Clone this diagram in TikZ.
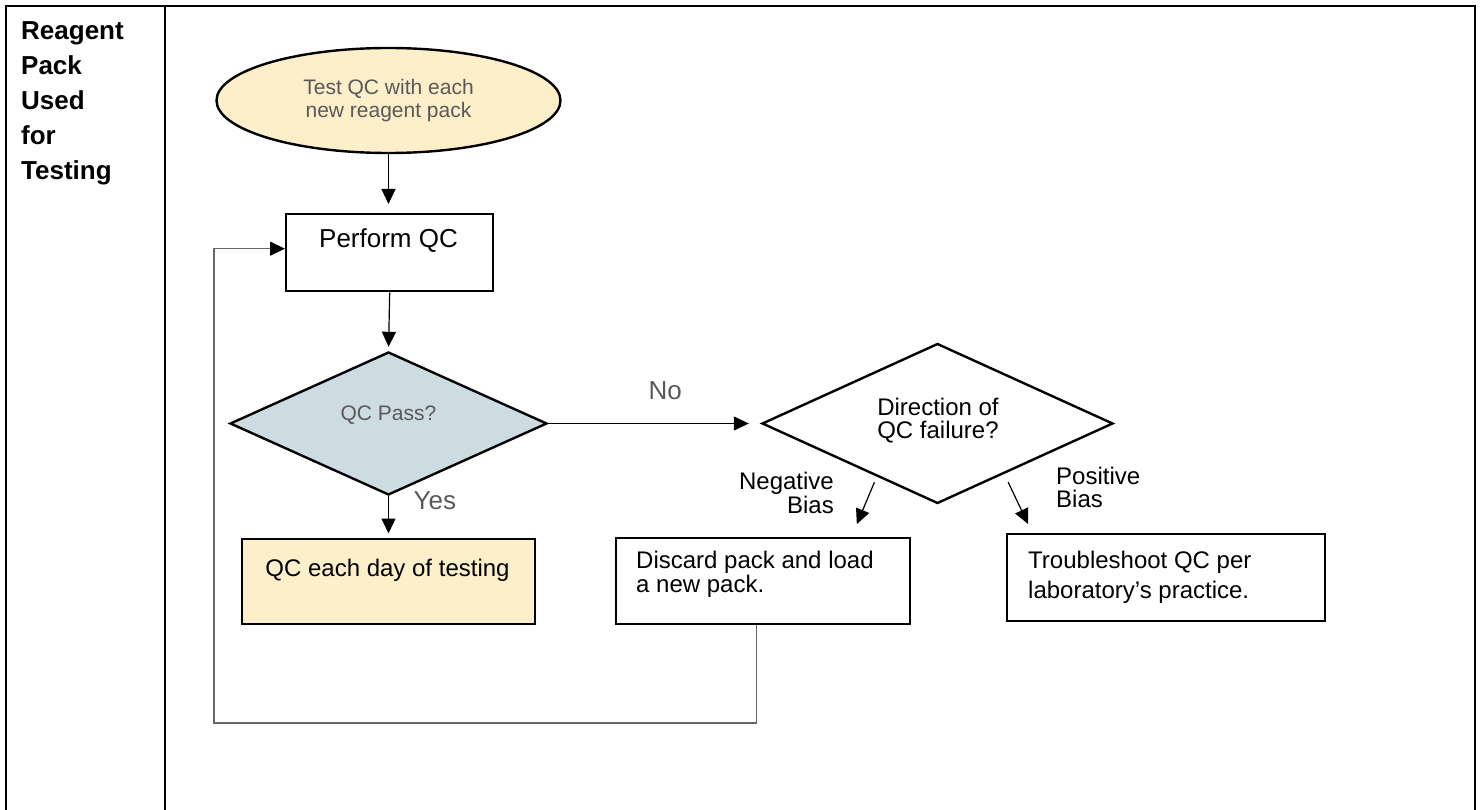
\documentclass[tikz,border=0pt]{standalone}
\usepackage{fontspec}
\setmainfont{Liberation Sans}
\usetikzlibrary{arrows.meta, shapes.geometric, positioning, calc}
\definecolor{packyellow}{HTML}{FDEFC9}
\definecolor{passblue}{HTML}{CDDCE1}
\definecolor{softgray}{HTML}{595959}

\begin{document}
\begin{tikzpicture}[x=1pt, y=-1pt,
    frame/.style={line width=2.4pt},
    box/.style={draw, line width=2.4pt, inner sep=0pt, anchor=north west},
    decision/.style={draw, diamond, line width=2.4pt, inner sep=0pt},
    txt/.style={inner sep=0pt, font=\fontsize{24}{23.5}\selectfont},
    glabel/.style={inner sep=0pt, text=softgray, font=\fontsize{26}{30}\selectfont},
    flow/.style={line width=1.2pt, -{Triangle[length=15pt,width=14pt]}},
    loopback/.style={draw=black!60, line width=1.2pt, -{Triangle[length=15pt,width=14pt,color=black]}}]
        \useasboundingbox (0,0) rectangle (1483,810);
%
        \draw[frame] (6,810) -- (6,6) -- (1475,6) -- (1475,810);
        \draw[frame] (165,6) -- (165,810);
        \node[inner sep=0pt, anchor=north west, align=left, font=\bfseries\fontsize{26}{35}\selectfont] (lane) at (21,21.5) {Reagent\\Pack\\Used\\for\\Testing};
%
        \node[draw, ellipse, line width=2.4pt, fill=packyellow, minimum width=344pt, minimum height=105pt, inner sep=0pt, text=softgray, align=center, font=\fontsize{21}{23}\selectfont] (start) at (388.5,100.5) {Test QC with each\\new reagent pack};
%
        \node[box, minimum width=207pt, minimum height=77pt] (perform) at (285,213) {};
        \node[txt, font=\fontsize{26}{30}\selectfont, anchor=base] (performtext) at (388.5,248) {Perform QC};
%
        \node[decision, fill=passblue, minimum width=317pt, minimum height=143pt] (pass) at (388.5,423.5) {};
        \node[txt, font=\fontsize{21}{25}\selectfont, text=softgray, anchor=base] (passtext) at (388.5,420) {QC Pass?};
%
        \node[decision, minimum width=351pt, minimum height=160pt] (dir) at (937.5,423.5) {};
        \node[txt, font=\fontsize{24}{23}\selectfont, align=center, anchor=north] (dirtext) at (938,398) {Direction of\\QC failure?};
%
        \node[box, fill=packyellow, minimum width=293pt, minimum height=85.5pt] (daily) at (241,537.5) {};
        \node[txt, anchor=base] (dailytext) at (387.5,576.7) {QC each day of testing};
%
        \node[box, minimum width=294pt, minimum height=86pt] (discard) at (615,537) {};
        \node[txt, align=left, anchor=north west] (discardtext) at (636,551) {Discard pack and load\\a new pack.};
%
        \node[box, minimum width=318pt, minimum height=87pt] (trouble) at (1006,533) {};
        \node[txt, font=\fontsize{24}{30}\selectfont, align=left, anchor=north west] (troubletext) at (1028,551) {Troubleshoot QC per\\laboratory’s practice.};
%
        \node[txt, align=right, anchor=north east] (negtext) at (834,472) {Negative\\Bias};
        \node[txt, font=\fontsize{24}{22.7}\selectfont, align=left, anchor=north west] (postext) at (1056,467) {Positive\\Bias};
%
        \draw[flow, shorten >=9pt] (start.south) -- (start.south |- perform.north);
        \draw[flow, shorten >=4pt] (perform.south) -- (pass.north);
        \draw[flow, shorten >=4pt] (pass.south) -- (pass.south |- daily.north) node[pos=0.11, anchor=west, xshift=24.5pt, glabel] (yes) {Yes};
        \draw[flow, shorten >=12pt] (pass.east) -- (dir.west) node[pos=0.55, above=23pt, glabel] (no) {No};
%
        \draw[flow, shorten <=6pt, shorten >=14pt] ($(dir.west)!0.656!(dir.south)$) -- ($(discard.north west)+(236.4,0)$);
        \draw[flow, shorten <=9pt, shorten >=10pt] ($(dir.south)!0.378!(dir.east)$) -- ($(trouble.north west)+(26.3,0)$);
%
        \coordinate (loopcorner) at (214,723);
        \draw[loopback] ($(discard.south)+(-7,0)$) |- (loopcorner) |- ([yshift=4pt]perform.west);
      \end{tikzpicture}
\end{document}
